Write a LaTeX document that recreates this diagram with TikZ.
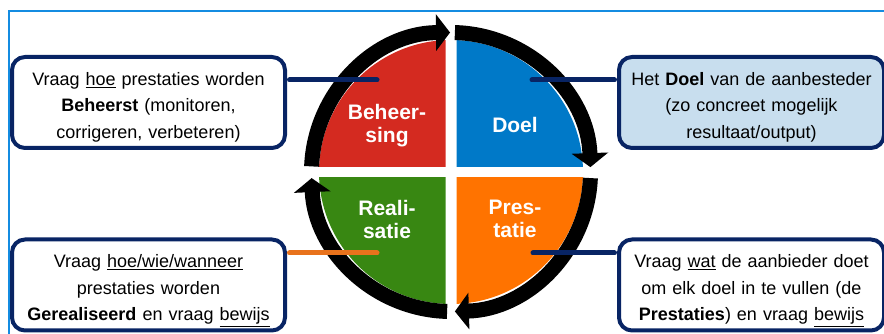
\documentclass[tikz,border=0pt]{standalone}
\usepackage{fontspec}
\setmainfont{Liberation Sans}
\usetikzlibrary{arrows.meta,calc}

\definecolor{frameblue}{RGB}{20,140,225}
\definecolor{boxnavy}{RGB}{8,36,100}
\definecolor{boxblue}{RGB}{200,222,238}
\definecolor{quadred}{RGB}{212,42,32}
\definecolor{quadblue}{RGB}{0,121,200}
\definecolor{quadgreen}{RGB}{56,135,18}
\definecolor{quadorange}{RGB}{255,115,0}
\definecolor{linkorange}{RGB}{232,114,28}

\begin{document}
\begin{tikzpicture}[x=1pt,y=1pt,
    infobox/.style={draw=boxnavy, line width=4pt, rounded corners=13pt, fill=white,
      text width=265pt, align=center, inner xsep=4pt, inner ysep=5.5pt,
      minimum width=273pt, minimum height=91pt, text height=23pt, text depth=57pt,
      font=\fontsize{18}{26.5}\selectfont},
    narrowbox/.style={text width=257pt, minimum width=265pt},
    quadlabel/.style={text=white, align=center, font=\fontsize{21}{23}\selectfont\bfseries},
    ringarrow/.style={line width=15pt, -{Triangle[length=14pt,width=36pt]}},
    pinline/.style={line width=5pt, line cap=round, shorten >=2.5pt}]
  \useasboundingbox (0,0) rectangle (884,334);

  % Slide frame
  \draw[frameblue, line width=2pt] (9,-5) |- (890,323);

  % Four quadrants
  \coordinate (c) at (451,162);
  \foreach \sx/\sy/\col in {-1/1/quadred, 1/1/quadblue, -1/-1/quadgreen, 1/-1/quadorange}{
    \begin{scope}
      \clip ($(c)+(5.5*\sx,5.5*\sy)$) rectangle ($(c)+(140*\sx,140*\sy)$);
      \fill[\col] (c) circle (132);
    \end{scope}
  }

  % Cycle arrows
  \draw[ringarrow] ($(c)+(177.7:139.5)$) arc[start angle=177.7, end angle=90.4, radius=139.5];
  \draw[ringarrow] ($(c)+(88.4:139.5)$) arc[start angle=88.4, end angle=2.0, radius=139.5];
  \draw[ringarrow] ($(c)+(-2.5:139.5)$) arc[start angle=-2.5, end angle=-88.4, radius=139.5];
  \draw[ringarrow] ($(c)+(-91.6:139.5)$) arc[start angle=-91.6, end angle=-177.5, radius=139.5];

  % Quadrant labels
  \node[quadlabel] (beheersing) at (387,208) {Beheer-\\sing};
  \node[quadlabel] (doel) at (515,209.5) {Doel};
  \node[quadlabel] (realisatie) at (387,115) {Reali-\\satie};
  \node[quadlabel] (prestatie) at (515,115) {Pres-\\tatie};

  % Question boxes
  \node[infobox] (vraagbeheer) at (148.5,231.5)
    {Vraag \underline{hoe} prestaties worden\\ \textbf{Beheerst} (monitoren,\\ corrigeren, verbeteren)};
  \node[infobox, narrowbox, fill=boxblue] (doelbox) at (751.5,231.5)
    {Het \textbf{Doel} van de aanbesteder\\ (zo concreet mogelijk\\ resultaat/output)};
  \node[infobox] (vraagreal) at (148.5,49)
    {Vraag \underline{hoe/wie/wanneer}\\ prestaties worden\\ \textbf{Gerealiseerd} en vraag \underline{bewijs}};
  \node[infobox, narrowbox] (vraagprest) at (751.5,49)
    {Vraag \underline{wat} de aanbieder doet\\ om elk doel in te vullen (de\\ \textbf{Prestaties}) en vraag \underline{bewijs}};

  % Connectors
  \coordinate (pinbeheer) at (377,254);
  \coordinate (pindoel) at (532,254);
  \coordinate (pinreal) at (377,81);
  \coordinate (pinprest) at (533,81);
  \draw[pinline, boxnavy] (pinbeheer) -- (pinbeheer -| vraagbeheer.east);
  \draw[pinline, boxnavy] (pindoel) -- (pindoel -| doelbox.west);
  \draw[pinline, linkorange] (pinreal) -- (pinreal -| vraagreal.east);
  \draw[pinline, boxnavy] (pinprest) -- (pinprest -| vraagprest.west);
\end{tikzpicture}
\end{document}
